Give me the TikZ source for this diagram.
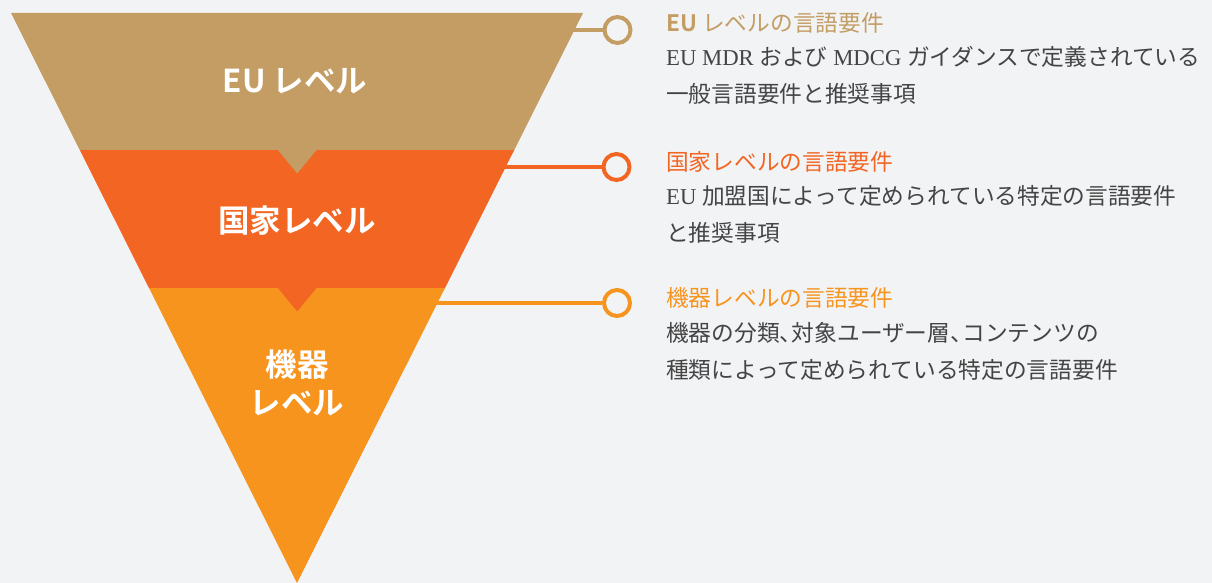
\documentclass[tikz,border=0pt]{standalone}
\usepackage{fontspec}
\setmainfont{Liberation Serif}
\newfontfamily\jp[BoldFont={Noto Sans CJK JP Bold}]{Noto Sans CJK JP}
\definecolor{bgc}{HTML}{F2F3F5}
\definecolor{goldc}{HTML}{C49D65}
\definecolor{redc}{HTML}{F26522}
\definecolor{orc}{HTML}{F7941E}
\definecolor{txt}{HTML}{444444}
\newcommand{\lt}[1]{{\rmfamily #1}}
\newcommand{\tc}{、\kern-10.5pt}
\tikzset{
  band/.style={text=white, font=\jp\bfseries\fontsize{31.5}{36}\selectfont, inner sep=0, align=center},
  ttl/.style={anchor=base west, inner sep=0, font=\jp\fontsize{22.7}{27}\selectfont},
  body/.style={anchor=base west, inner sep=0, text=txt, font=\jp\fontsize{22.7}{27}\selectfont},
  dot/.style={circle, draw=#1, line width=4pt, fill=bgc, minimum size=26pt, inner sep=0},
  conn/.style={line width=3.6pt}
}
\begin{document}
\begin{tikzpicture}[x=1pt,y=-1pt]
\fill[bgc] (0,0) rectangle (1212,583);
\useasboundingbox (0,0) rectangle (1212,583);
% funnel
\coordinate (TL) at (11,13);
\coordinate (TR) at (583,13);
\coordinate (A) at (297,583);
\coordinate (L1) at (79.75,150);
\coordinate (R1) at (514.25,150);
\coordinate (L2) at (149,288);
\coordinate (R2) at (445,288);
\fill[goldc] (TL) -- (TR) -- (R1) -- (L1) -- cycle;
\fill[redc] (L1) -- (R1) -- (R2) -- (L2) -- cycle;
\fill[orc] (L2) -- (R2) -- (A) -- cycle;
\fill[goldc] (277.5,149.5) -- (317,149.5) -- (297.2,173.5) -- cycle;
\fill[redc] (277.5,287.5) -- (317,287.5) -- (297.2,311.5) -- cycle;
% band labels
\node[band] (eul) at (295,81) {EU レベル};
\node[band] (nal) at (297,221) {国家レベル};
\node[band] (dl1) at (297,365) {機器};
\node[band] (dl2) at (297,403) {レベル};
% connectors
\node[dot=goldc] (c1) at (617.5,30) {};
\node[dot=redc] (c2) at (616.5,167) {};
\node[dot=orc] (c3) at (617,303) {};
\coordinate (e1) at (572,30);
\coordinate (e2) at (503,167);
\coordinate (e3) at (435,303);
\draw[conn, goldc] (e1) -- (c1);
\draw[conn, redc] (e2) -- (c2);
\draw[conn, orc] (e3) -- (c3);
% texts
\node[ttl, text=goldc] (t1) at (666,31.5) {\textbf{EU} レベルの言語要件};
\node[body] (b1a) at (666,65.5) {\lt{EU MDR }および\lt{ MDCG }ガイダンスで定義されている};
\node[body] (b1b) at (666,102.5) {一般言語要件と推奨事項};
\node[ttl, text=redc] (t2) at (666,170.5) {国家レベルの言語要件};
\node[body] (b2a) at (666,204.5) {\lt{EU }加盟国によって定められている特定の言語要件};
\node[body] (b2b) at (666,241.5) {と推奨事項};
\node[ttl, text=orc] (t3) at (666,306) {機器レベルの言語要件};
\node[body] (b3a) at (666,341.5) {機器の分類\tc 対象ユーザー層\tc コンテンツの};
\node[body] (b3b) at (666,378.5) {種類によって定められている特定の言語要件};
\end{tikzpicture}
\end{document}
